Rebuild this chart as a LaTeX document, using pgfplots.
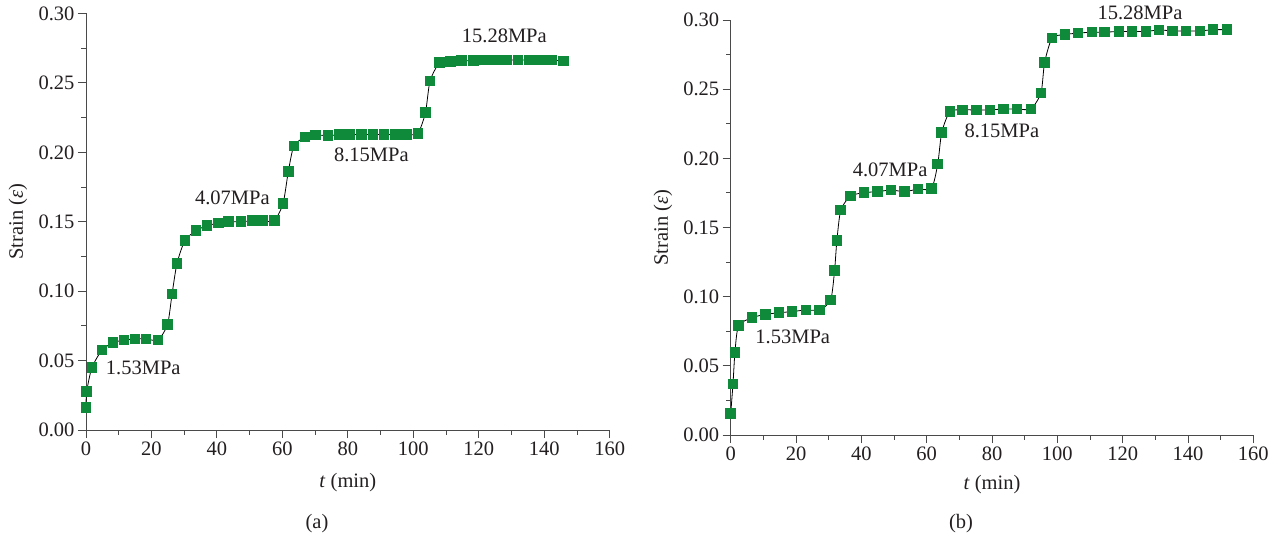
\documentclass[border=0pt]{standalone}
\usepackage{pgfplots}
\pgfplotsset{compat=1.18}
\usepackage{pgfplotstable}
\usepackage{fontspec}
\setmainfont{Liberation Serif}
\definecolor{mk}{HTML}{0F8A3A}
\definecolor{axc}{HTML}{4A4A4A}
\definecolor{txt}{HTML}{231F20}
\newcommand\fs{\fontsize{20.5}{24}\selectfont}

\pgfplotstableread{
t s
0 0.0163
0.2 0.0276
1.8 0.0449
4.9 0.0576
8.3 0.0629
11.6 0.0648
15.0 0.0656
18.3 0.0656
22.0 0.0648
24.9 0.0759
26.3 0.0980
27.8 0.1200
30.2 0.1364
33.6 0.1436
37.0 0.1472
40.4 0.1490
43.6 0.1500
47.3 0.1500
50.8 0.1507
54.1 0.1507
57.5 0.1507
60.2 0.1630
61.8 0.1860
63.5 0.2045
66.9 0.2110
70.2 0.2125
73.9 0.2120
77.4 0.2128
80.7 0.2128
84.1 0.2128
87.7 0.2128
91.1 0.2128
94.5 0.2128
97.9 0.2128
101.4 0.2137
103.7 0.2285
105.1 0.2513
108.0 0.2646
111.3 0.2653
114.7 0.2660
118.3 0.2660
121.7 0.2665
125.1 0.2665
128.5 0.2665
132.0 0.2665
135.5 0.2665
138.8 0.2665
142.3 0.2665
145.9 0.2658
}\dataA

\pgfplotstableread{
t s
0 0.0154
0.7 0.0369
1.3 0.0598
2.4 0.0790
6.5 0.0848
10.7 0.0872
14.8 0.0884
18.8 0.0892
23.0 0.0904
27.2 0.0904
30.6 0.0976
31.8 0.1188
32.5 0.1404
33.7 0.1626
36.7 0.1727
40.8 0.1752
45.0 0.1759
49.1 0.1771
53.3 0.1759
57.3 0.1778
61.5 0.1783
63.4 0.1960
64.6 0.2186
67.1 0.2338
71.0 0.2350
75.3 0.2350
79.4 0.2350
83.5 0.2357
87.6 0.2357
91.9 0.2357
95.0 0.2473
96.1 0.2692
98.4 0.2870
102.3 0.2895
106.3 0.2905
110.6 0.2912
114.5 0.2912
118.9 0.2917
122.9 0.2917
127.2 0.2917
131.1 0.2928
135.3 0.2921
139.4 0.2921
143.7 0.2921
147.6 0.2930
151.9 0.2930
}\dataB

\pgfplotsset{
  myax/.style={
    scale only axis,
    xmin=0, xmax=160, ymin=0, ymax=0.30,
    axis x line*=bottom, axis y line*=left,
    axis line style={axc, line width=0.9pt},
    xtick={0,20,40,60,80,100,120,140,160},
    ytick={0,0.05,0.10,0.15,0.20,0.25,0.30},
    minor x tick num=1, minor y tick num=1,
    tick align=outside,
    major tick length=8pt, minor tick length=4.5pt,
    every tick/.style={axc, line width=0.9pt},
    yticklabel style={/pgf/number format/.cd, fixed, fixed zerofill, precision=2},
    /pgf/number format/assume math mode=true,
    tick label style={font=\fs, text=txt},
    label style={font=\fs, text=txt},
    xlabel={\textit{t} (min)},
    ylabel={Strain (\textit{ε})},
    clip=false,
  },
  lineplot/.style={black, line width=0.8pt, smooth, tension=0.4, no marks},
  markplot/.style={only marks, mark=square*, mark size=4.8pt, mark options={fill=mk, draw=mk, line width=0pt}},
}

\begin{document}
\begin{tikzpicture}[x=1pt,y=1pt]
\useasboundingbox (0,0) rectangle (1283,544);

\begin{axis}[myax, at={(86pt,114pt)}, anchor=south west, width=523.7pt, height=416.5pt,
  ylabel style={at={(axis description cs:-0.130,0.5)}, anchor=center},
  xlabel style={at={(axis description cs:0.5,-0.127)}, anchor=center}]
  \addplot[lineplot] table[x=t,y=s] {\dataA};
  \addplot[markplot] table[x=t,y=s] {\dataA};
  \node[font=\fs, text=txt] at (axis cs:17.5,0.0449) {1.53MPa};
  \node[font=\fs, text=txt] at (axis cs:44.7,0.167) {4.07MPa};
  \node[font=\fs, text=txt] at (axis cs:87.2,0.198) {8.15MPa};
  \node[font=\fs, text=txt] at (axis cs:127.8,0.284) {15.28MPa};
\end{axis}

\begin{axis}[myax, at={(730.7pt,109pt)}, anchor=south west, width=522.6pt, height=415pt,
  ylabel style={at={(axis description cs:-0.1295,0.5)}, anchor=center},
  xlabel style={at={(axis description cs:0.5,-0.12)}, anchor=center}]
  \addplot[lineplot] table[x=t,y=s] {\dataB};
  \addplot[markplot] table[x=t,y=s] {\dataB};
  \node[font=\fs, text=txt] at (axis cs:19.0,0.0711) {1.53MPa};
  \node[font=\fs, text=txt] at (axis cs:48.8,0.1916) {4.07MPa};
  \node[font=\fs, text=txt] at (axis cs:83.0,0.220) {8.15MPa};
  \node[font=\fs, text=txt] at (axis cs:125.3,0.305) {15.28MPa};
\end{axis}

\node[font=\fs, text=txt] at (317,20) {(a)};
\node[font=\fs, text=txt] at (961,20) {(b)};
\end{tikzpicture}
\end{document}
